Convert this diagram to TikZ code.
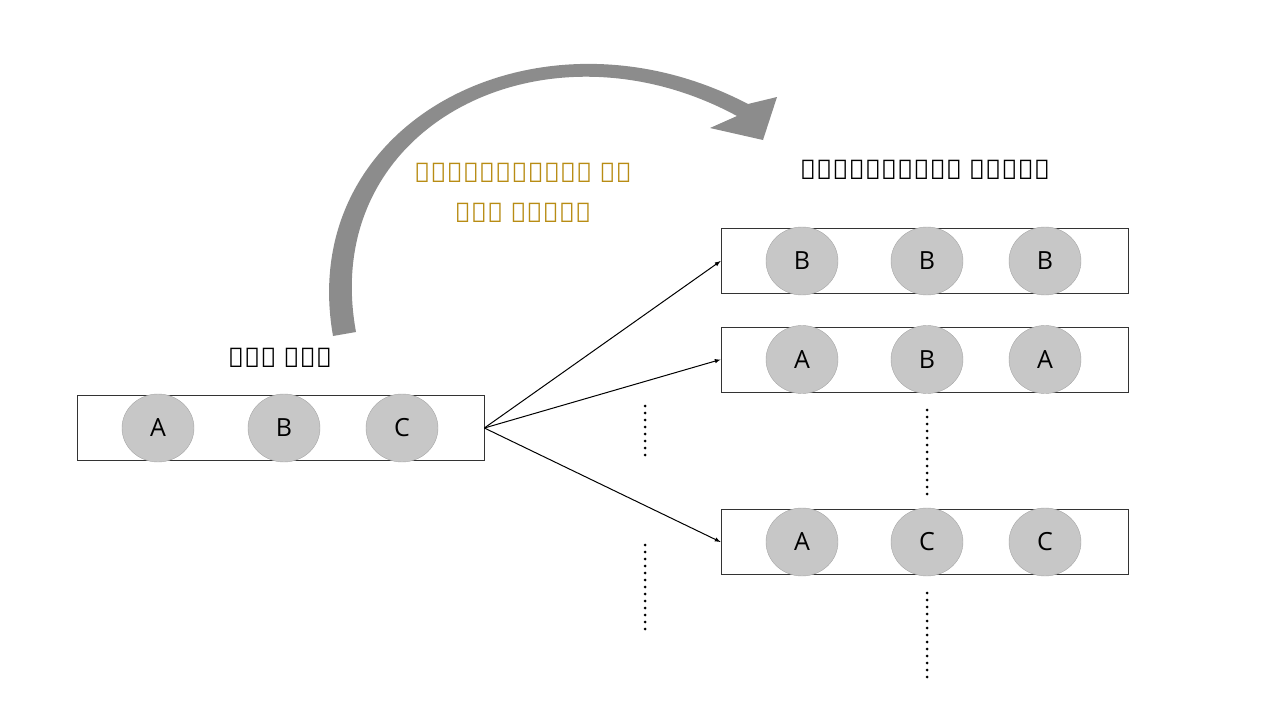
\documentclass[tikz,border=0pt]{standalone}
\usepackage{fontspec}
\setmainfont{Open Sans}
\usetikzlibrary{positioning,shapes.geometric}
\definecolor{goldtxt}{RGB}{184,140,20}
\tikzset{
  setbox/.style={draw=black!80, line width=0.7pt, minimum width=407pt, minimum height=65pt, inner sep=0pt},
  ball/.style={ellipse, draw=black!35, fill=black!22, minimum width=72pt, minimum height=68pt, inner sep=0pt, font=\fontsize{25pt}{25pt}\selectfont},
  link/.style={-latex, line width=1pt},
  dots/.style={line width=3pt, line cap=round, dash pattern=on 0pt off 7pt},
  title/.style={font=\bfseries\fontsize{27pt}{40pt}\selectfont}
}
\begin{document}
\begin{tikzpicture}[x=1pt,y=-1pt]
\useasboundingbox (0,0) rectangle (1280,720);

% original set
\node[setbox] (orig) at (280.5,428) {};
\node[ball] (oA) at (158,428) {A};
\node[ball] (oB) at (284,428) {B};
\node[ball] (oC) at (402,428) {C};
\node[title] (origlbl) at (280,358) {मूल सेट};

% bootstrap samples
\node[setbox] (s1) at (924.5,261) {};
\node[setbox] (s2) at (924.5,359.5) {};
\node[setbox] (s3) at (924.5,542) {};
\foreach \row/\y/\a/\b/\c in {1/261/B/B/B, 2/359.5/A/B/A, 3/542/A/C/C} {
  \node[ball] (b\row a) at (802,\y) {\a};
  \node[ball] (b\row b) at (927,\y) {\b};
  \node[ball] (b\row c) at (1045,\y) {\c};
}
\node[title] (bootlbl) at (925,170) {बूटस्ट्रैप नमूने};

% arrows
\coordinate (src) at (orig.east);
\draw[link] (src) -- (s1.west);
\draw[link] (src) -- (s2.west);
\draw[link] (src) -- (s3.west);

% dots
\draw[dots] (645,406) -- (645,462);
\draw[dots] (645,545) -- (645,632);
\draw[dots] (927,410) -- (927,497);
\draw[dots] (927,593) -- (927,680);

% curved arrow
\fill[black!45] (333,336) .. controls (295,120) and (540,-5) .. (748,104)
  -- (777,97) -- (763,140) -- (710,128) -- (737,116)
  .. controls (545,12) and (318,125) .. (356,332) -- cycle;
\node[title, text=goldtxt, align=center] (replbl) at (523,193) {प्रतिस्थापन के\\साथ नमूना};
\end{tikzpicture}
\end{document}
